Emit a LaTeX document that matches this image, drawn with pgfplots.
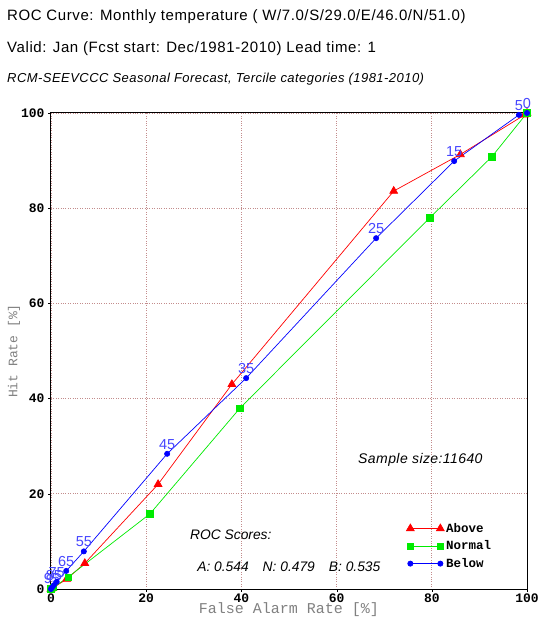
\documentclass[border=0pt]{standalone}
\usepackage{pgfplots}
\pgfplotsset{compat=1.18}
\usepackage{fontspec}
\setmainfont{Liberation Sans}
\setsansfont{Liberation Sans}
\setmonofont{Liberation Mono}
\definecolor{gridc}{RGB}{195,140,140}
\definecolor{lblue}{RGB}{70,70,255}
\definecolor{lgreen}{RGB}{0,235,0}
\definecolor{axlab}{RGB}{128,128,128}
\begin{document}
\begin{tikzpicture}
\useasboundingbox (0,0) rectangle (542pt,628pt);
\node[anchor=west,inner sep=0pt,font=\addfontfeature{LetterSpace=4}\fontsize{15}{16}\selectfont] at (7pt,611pt) {ROC Curve: Monthly temperature ( W/7.0/S/29.0/E/46.0/N/51.0)};
\node[anchor=west,inner sep=0pt,font=\addfontfeature{LetterSpace=4}\fontsize{15}{16}\selectfont] at (7pt,579pt) {Valid: Jan (Fcst start: Dec/1981-2010) Lead time: 1};
\node[anchor=west,inner sep=0pt,font=\itshape\addfontfeature{LetterSpace=3.5}\fontsize{13}{14}\selectfont] at (7pt,549pt) {RCM-SEEVCCC Seasonal Forecast, Tercile categories (1981-2010)};
\begin{axis}[
  at={(51pt,39pt)}, anchor=south west,
  scale only axis, width=476pt, height=476pt,
  xmin=0, xmax=100, ymin=0, ymax=100,
  xtick={0,20,...,100}, ytick={0,20,...,100},
  clip=false,
  axis line style={black, line width=1pt},
  tick align=outside, major tick length=3pt,
  xtick pos=bottom, ytick pos=left,
  tick style={black},
  grid=major,
  major grid style={gridc, dotted, line width=0.8pt},
  /pgf/number format/assume math mode=true,
  tick label style={font=\ttfamily\bfseries\fontsize{13}{13}\selectfont},
  xticklabel style={yshift=2pt},
  xlabel={False Alarm Rate [\%]},
  ylabel={Hit Rate [\%]},
  xlabel style={font=\ttfamily\fontsize{15}{15}\selectfont, text=axlab, at={(axis description cs:0.5,0)}, anchor=center, yshift=-21pt, xshift=0pt},
  ylabel style={font=\ttfamily\fontsize{13}{13}\selectfont, text=axlab, at={(axis description cs:0,0.5)}, anchor=center, yshift=37pt},
  legend style={at={(axis cs:74,14.7)}, anchor=north west, draw=none, fill=none,
    font=\ttfamily\bfseries\fontsize{12.5}{12.5}\selectfont, row sep=3pt},
  legend cell align=left,
  legend image code/.code={\draw[#1] plot coordinates {(0pt,0pt) (30pt,0pt)};},
]
\addplot[red, line width=0.7pt, mark=triangle*, mark size=4.5pt, mark options={solid, fill=red}]
 coordinates {(0,0) (0.4,0.2) (3.3,2.1) (7.1,5.4) (22.5,22) (38,43) (72,83.6) (86,91.3) (99.5,99.6) (100,100)};
\addlegendentry{Above}
\addplot[lgreen, line width=0.7pt, mark=square*, mark size=3.2pt, mark options={solid, fill=lgreen}]
 coordinates {(0,0) (0.5,0.3) (3.6,2.5) (20.8,15.8) (39.7,38) (79.6,78) (92.6,90.8) (100,100)};
\addlegendentry{Normal}
\addplot[blue, line width=0.7pt, mark=*, mark size=2.6pt, mark options={solid, fill=blue},
  nodes near coords, point meta=explicit symbolic,
  every node near coord/.append style={font=\fontsize{14.5}{14.5}\selectfont, text=lblue, anchor=south, inner sep=0pt, yshift=4pt}]
 coordinates {(0,0) [] (0.2,0.3) [95] (0.6,0.8) [85] (1.2,1.5) [75] (3.2,3.8) [65] (6.9,7.9) [55] (24.4,28.4) [45] (41,44.3) [35] (68.3,73.7) [25] (84.7,89.9) [15] (98.3,99.6) [5] (100,100) [0]};
\addlegendentry{Below}
\node[anchor=west, inner sep=0pt, font=\itshape\addfontfeature{LetterSpace=3}\fontsize{14}{14}\selectfont] at (axis cs:64.5,27.1) {Sample size:11640};
\node[anchor=west, inner sep=0pt, font=\itshape\fontsize{13.8}{13.8}\selectfont] at (axis cs:29.2,11.3) {ROC Scores:};
\node[anchor=west, inner sep=0pt, font=\itshape\fontsize{13.8}{13.8}\selectfont] at (axis cs:30.7,4.6) {A: 0.544\hspace{14pt}N: 0.479\hspace{14pt}B: 0.535};
\end{axis}
\end{tikzpicture}
\end{document}
